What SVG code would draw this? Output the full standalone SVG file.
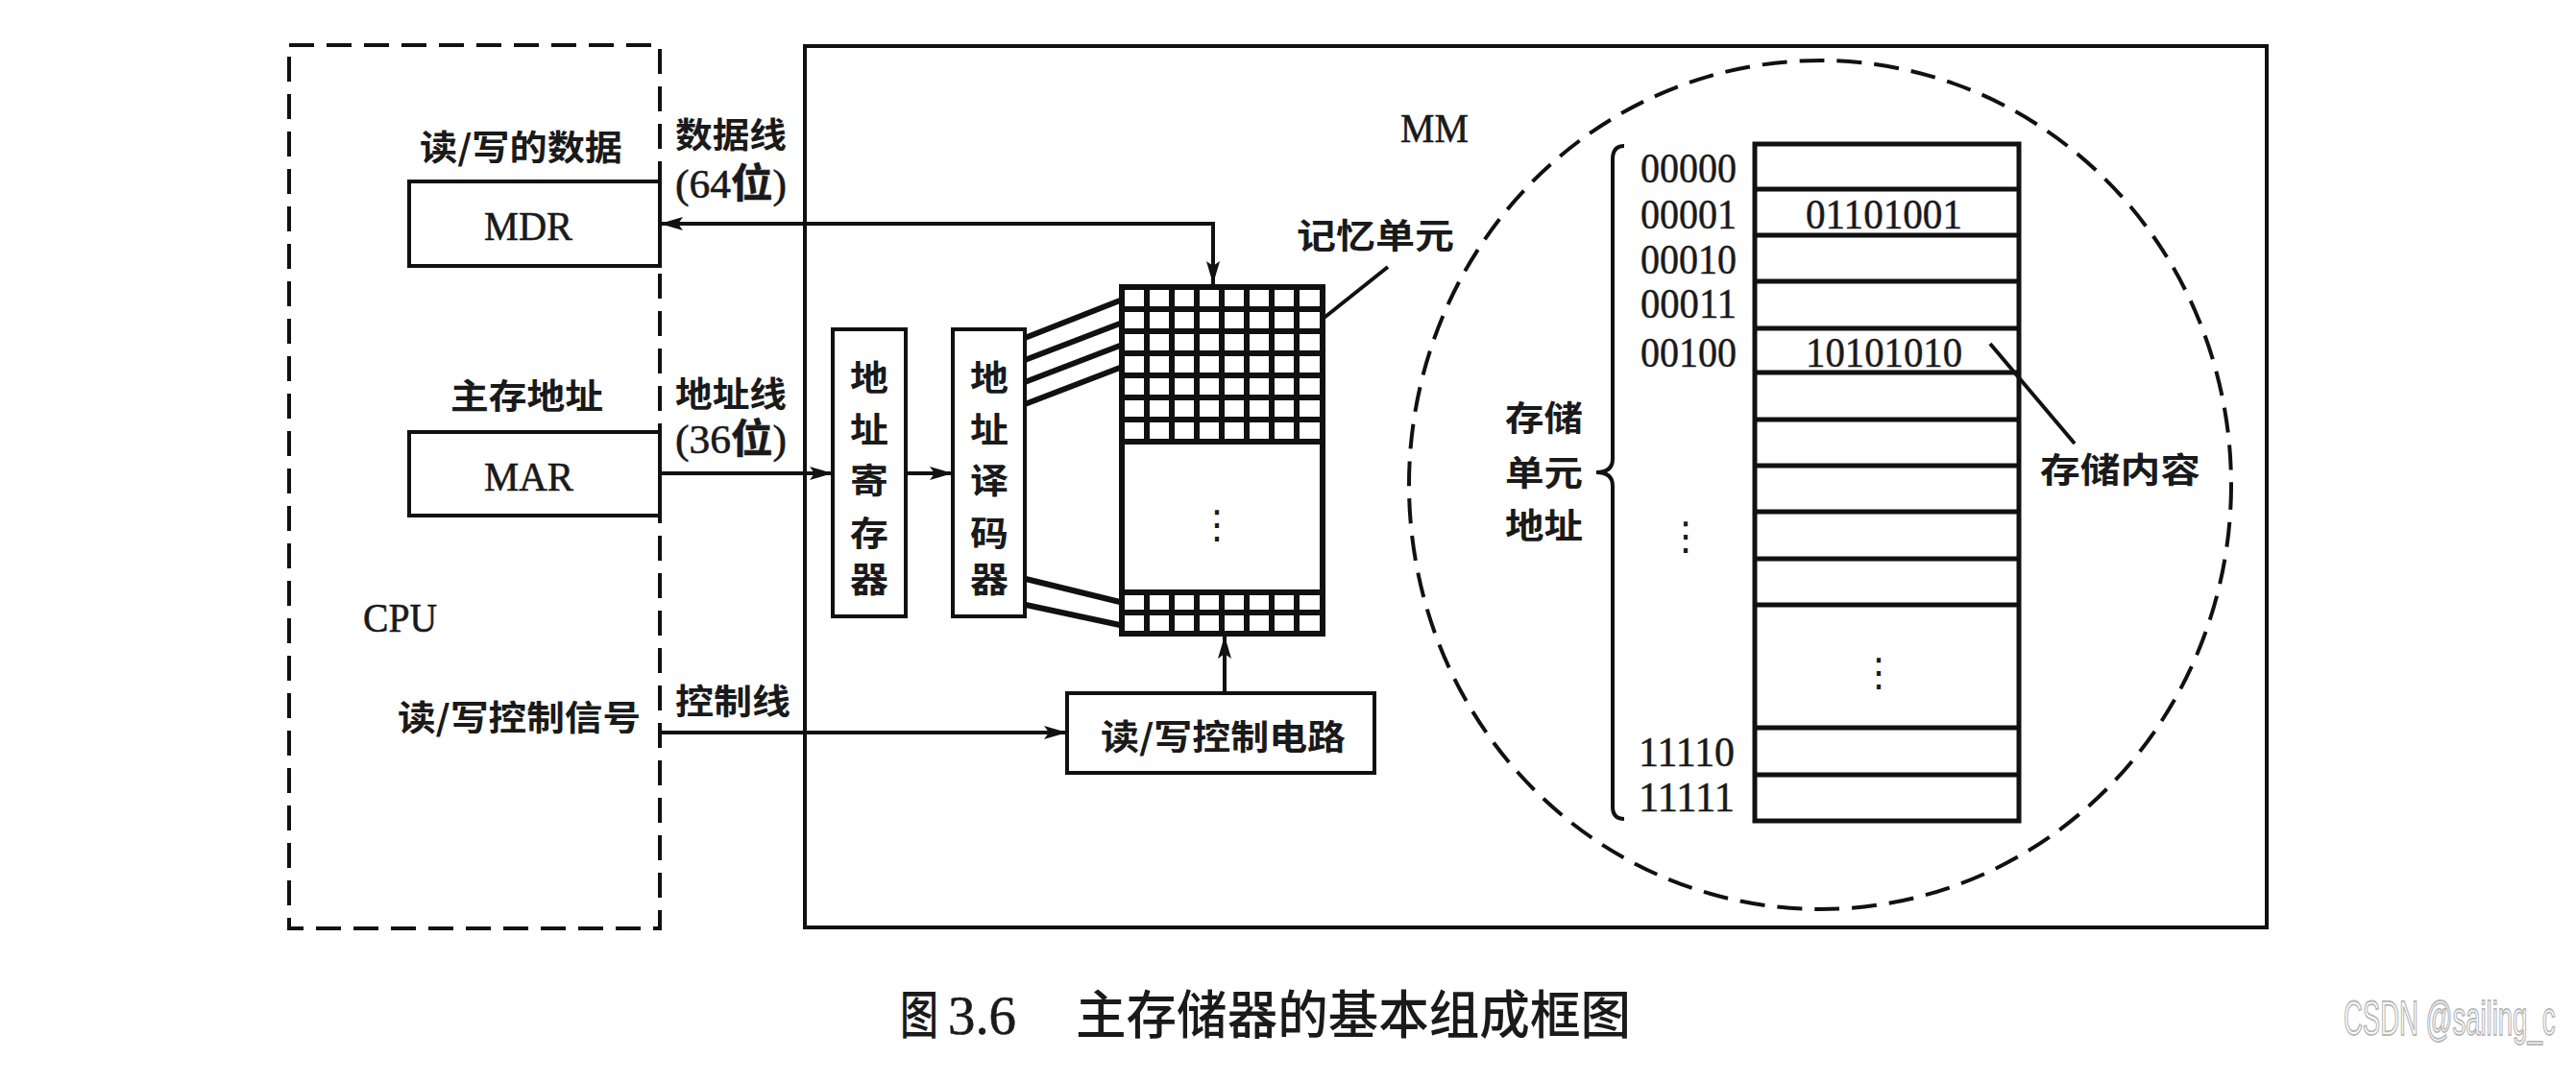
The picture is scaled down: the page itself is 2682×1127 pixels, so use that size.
<svg xmlns="http://www.w3.org/2000/svg" width="2682" height="1127" viewBox="0 0 2682 1127">
<defs>
<style>
.ln{fill:none;stroke:#111;stroke-width:4}
.tb{fill:none;stroke:#111;stroke-width:5}
.gd{fill:none;stroke:#111;stroke-width:6}
.dash{fill:none;stroke:#111;stroke-width:4;stroke-dasharray:26 13}
.cj{font-family:"Noto Sans CJK SC","Noto Sans CJK JP",sans-serif;font-size:36px;font-weight:700;fill:#1a1a1a}
.lt{font-family:"Liberation Serif","Noto Sans CJK SC",serif;font-size:42px;fill:#1a1a1a;stroke:#1a1a1a;stroke-width:0.6}
.ad{font-family:"Liberation Serif",serif;font-size:44px;fill:#1a1a1a;stroke:#1a1a1a;stroke-width:0.5}
.el{font-family:"DejaVu Sans",sans-serif;font-size:40px;fill:#1a1a1a}
.cap{font-family:"Noto Sans CJK SC",sans-serif;font-size:54px;font-weight:500;fill:#1a1a1a}
.capn{font-family:"Liberation Serif",serif;font-size:56px;fill:#1a1a1a;stroke:#1a1a1a;stroke-width:0.6}
.wm{font-family:"Liberation Sans",sans-serif;font-size:27.5px;fill:#fff;stroke:#b8b8b8;stroke-width:1}
</style>
<marker id="ah" markerUnits="userSpaceOnUse" markerWidth="26" markerHeight="16" refX="24" refY="8" orient="auto-start-reverse"><path d="M0,1 L24,8 L0,15 L5,8 z" fill="#111"/></marker>
</defs>
<rect width="2682" height="1127" fill="#fff"/>

<g id="cpu">
<rect class="dash" x="301" y="47" width="386" height="920"/>
<text class="lt" x="378" y="658" textLength="77" lengthAdjust="spacingAndGlyphs">CPU</text>
</g>
<g id="mdr">
<text class="cj" x="437" y="167" textLength="211" lengthAdjust="spacingAndGlyphs">读/写的数据</text>
<rect class="ln" x="426" y="189" width="261" height="88"/>
<text class="lt" x="504" y="250" textLength="92" lengthAdjust="spacingAndGlyphs">MDR</text>
</g>
<g id="mar">
<text class="cj" x="469" y="426" textLength="159" lengthAdjust="spacingAndGlyphs">主存地址</text>
<rect class="ln" x="426" y="450" width="261" height="87"/>
<text class="lt" x="504" y="511" textLength="93" lengthAdjust="spacingAndGlyphs">MAR</text>
</g>
<g id="ctrl-signal">
<text class="cj" x="414" y="761" textLength="253" lengthAdjust="spacingAndGlyphs">读/写控制信号</text>
</g>

<g id="mm">
<rect class="ln" x="838" y="48" width="1522" height="918"/>
<text class="lt" x="1458" y="148" textLength="71" lengthAdjust="spacingAndGlyphs">MM</text>
</g>

<g id="addr-reg">
<rect class="ln" x="867" y="343" width="76" height="299"/>
<text class="cj" x="885" y="407" textLength="40" lengthAdjust="spacingAndGlyphs">地</text>
<text class="cj" x="885" y="461" textLength="40" lengthAdjust="spacingAndGlyphs">址</text>
<text class="cj" x="885" y="514" textLength="40" lengthAdjust="spacingAndGlyphs">寄</text>
<text class="cj" x="885" y="569" textLength="40" lengthAdjust="spacingAndGlyphs">存</text>
<text class="cj" x="885" y="617" textLength="40" lengthAdjust="spacingAndGlyphs">器</text>
</g>
<g id="addr-dec">
<rect class="ln" x="992" y="343" width="75" height="299"/>
<text class="cj" x="1010" y="407" textLength="40" lengthAdjust="spacingAndGlyphs">地</text>
<text class="cj" x="1010" y="461" textLength="40" lengthAdjust="spacingAndGlyphs">址</text>
<text class="cj" x="1010" y="514" textLength="40" lengthAdjust="spacingAndGlyphs">译</text>
<text class="cj" x="1010" y="569" textLength="40" lengthAdjust="spacingAndGlyphs">码</text>
<text class="cj" x="1010" y="617" textLength="40" lengthAdjust="spacingAndGlyphs">器</text>
</g>

<g id="cell-array">
<rect class="gd" x="1168" y="299" width="209" height="361"/>
<path class="gd" d="M1168,322H1377M1168,345H1377M1168,368H1377M1168,391H1377M1168,414H1377M1168,437H1377M1168,460H1377M1168,617H1377M1168,638H1377"/>
<path class="gd" d="M1194,299V460M1220,299V460M1246,299V460M1272,299V460M1298,299V460M1324,299V460M1350,299V460M1194,617V660M1220,617V660M1246,617V660M1272,617V660M1298,617V660M1324,617V660M1350,617V660"/>
<text class="el" x="1267" y="560" text-anchor="middle">⋮</text>
<text class="cj" x="1350" y="259" textLength="164" lengthAdjust="spacingAndGlyphs">记忆单元</text>
<path class="ln" d="M1445,278L1376,333"/>
</g>

<g id="rw-circuit">
<rect class="ln" x="1111" y="722" width="320" height="83"/>
<text class="cj" x="1146" y="781" textLength="255" lengthAdjust="spacingAndGlyphs">读/写控制电路</text>
</g>

<g id="storage">
<ellipse class="dash" cx="1895" cy="505" rx="428" ry="442"/>
<rect class="tb" x="1827" y="150" width="275" height="705"/>
<path class="tb" d="M1827,197H2102M1827,245H2102M1827,293H2102M1827,342H2102M1827,388H2102M1827,437H2102M1827,485H2102M1827,533H2102M1827,582H2102M1827,630H2102M1827,758H2102M1827,807H2102"/>
<text class="ad" x="1708" y="190" textLength="100" lengthAdjust="spacingAndGlyphs">00000</text>
<text class="ad" x="1708" y="238" textLength="100" lengthAdjust="spacingAndGlyphs">00001</text>
<text class="ad" x="1708" y="285" textLength="100" lengthAdjust="spacingAndGlyphs">00010</text>
<text class="ad" x="1708" y="331" textLength="100" lengthAdjust="spacingAndGlyphs">00011</text>
<text class="ad" x="1708" y="382" textLength="100" lengthAdjust="spacingAndGlyphs">00100</text>
<text class="el" x="1755" y="572" text-anchor="middle">⋮</text>
<text class="ad" x="1706" y="798" textLength="100" lengthAdjust="spacingAndGlyphs">11110</text>
<text class="ad" x="1706" y="845" textLength="100" lengthAdjust="spacingAndGlyphs">11111</text>
<text class="ad" x="1880" y="238" textLength="163" lengthAdjust="spacingAndGlyphs">01101001</text>
<text class="ad" x="1880" y="382" textLength="163" lengthAdjust="spacingAndGlyphs">10101010</text>
<text class="el" x="1956" y="714" text-anchor="middle">⋮</text>
<path class="ln" d="M1691,152Q1679,152 1679,166L1679,478Q1679,492 1662,492Q1679,492 1679,506L1679,840Q1679,853 1691,853"/>
<text class="cj" x="1567" y="449" textLength="81" lengthAdjust="spacingAndGlyphs">存储</text>
<text class="cj" x="1567" y="506" textLength="81" lengthAdjust="spacingAndGlyphs">单元</text>
<text class="cj" x="1567" y="561" textLength="81" lengthAdjust="spacingAndGlyphs">地址</text>
<path class="ln" d="M2072,358L2160,462"/>
<text class="cj" x="2124" y="503" textLength="167" lengthAdjust="spacingAndGlyphs">存储内容</text>
</g>

<g id="connectors">
<path class="ln" d="M687,233H1263V296" marker-start="url(#ah)" marker-end="url(#ah)"/>
<path class="ln" d="M687,493H867" marker-end="url(#ah)"/>
<path class="ln" d="M943,493H992" marker-end="url(#ah)"/>
<path class="ln" d="M687,763H1111" marker-end="url(#ah)"/>
<path class="ln" d="M1275,722V662" marker-end="url(#ah)"/>
<path class="gd" d="M1067,352L1166,313M1067,375L1166,337M1067,398L1166,360M1067,421L1166,383M1068,603L1166,627M1068,630L1166,651"/>
<text class="cj" x="703" y="154" textLength="116" lengthAdjust="spacingAndGlyphs">数据线</text>
<text class="lt" x="703" y="206" font-size="38" textLength="116" lengthAdjust="spacingAndGlyphs">(64<tspan font-weight="700">位</tspan>)</text>
<text class="cj" x="703" y="424" textLength="116" lengthAdjust="spacingAndGlyphs">地址线</text>
<text class="lt" x="703" y="472" font-size="38" textLength="116" lengthAdjust="spacingAndGlyphs">(36<tspan font-weight="700">位</tspan>)</text>
<text class="cj" x="703" y="744" textLength="120" lengthAdjust="spacingAndGlyphs">控制线</text>
</g>

<g id="caption">
<text class="cap" x="937" y="1077" textLength="40" lengthAdjust="spacingAndGlyphs">图</text>
<text class="capn" x="987" y="1077" textLength="71" lengthAdjust="spacingAndGlyphs">3.6</text>
<text class="cap" x="1120" y="1077" textLength="578" lengthAdjust="spacingAndGlyphs">主存储器的基本组成框图</text>
<text class="wm" transform="translate(2440,1078) scale(1,1.8)">CSDN @sailing_c</text>
</g>
</svg>
